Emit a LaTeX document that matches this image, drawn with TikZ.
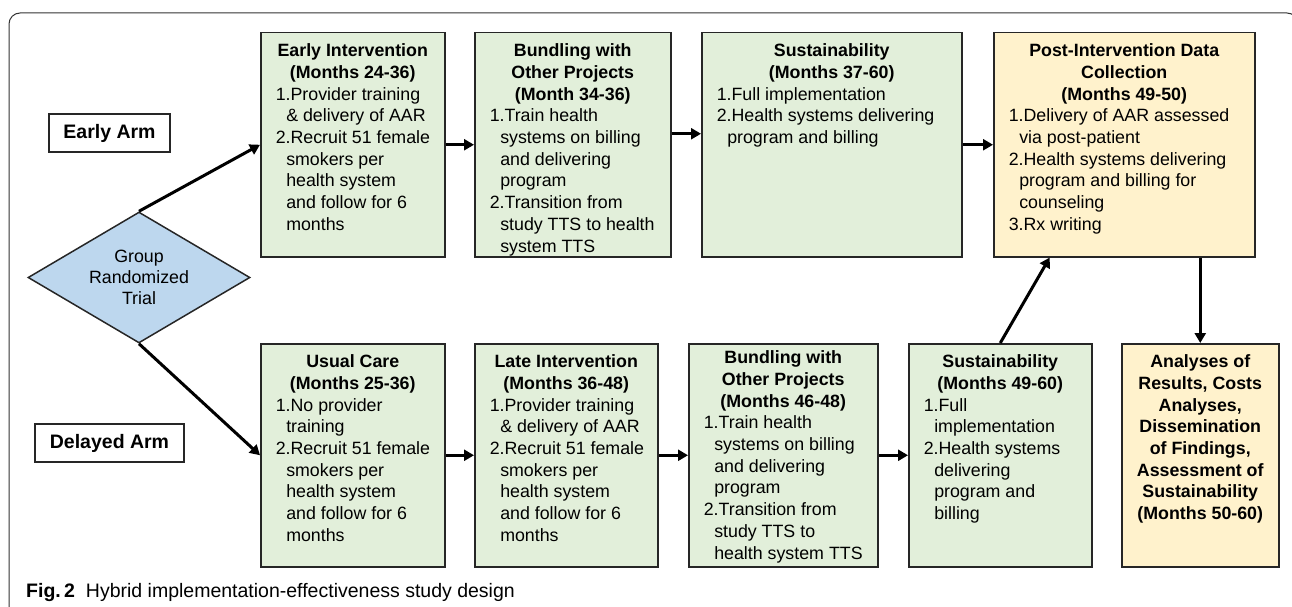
\documentclass[tikz,border=0pt]{standalone}
\usepackage{fontspec}
\setmainfont{Liberation Sans}
\usetikzlibrary{shapes.geometric,arrows.meta}
\definecolor{gfill}{HTML}{E2EFDA}
\definecolor{yfill}{HTML}{FFF2CC}
\definecolor{bfill}{HTML}{BDD7EE}
\definecolor{edgec}{HTML}{262626}
\definecolor{framec}{HTML}{333333}
\newcommand\boxtitle[1]{\hbox to \hsize{\hss\bfseries\vrule height 13pt depth 0pt width 0pt\relax #1\hss}}
\newcommand\boxitem[1]{\hbox{\hskip 15pt\vrule height 13pt depth 0pt width 0pt\relax #1}}
\newcommand\boxcont[1]{\hbox{\hskip 25.5pt\vrule height 13pt depth 0pt width 0pt\relax #1}}
\newcommand\boxbody[4]{\parbox[t][#2][t]{#1}{\vspace*{#3}#4}}
\tikzset{
  bodyfont/.style={font=\fontsize{17.8}{21.7}\selectfont},
  gbox/.style={draw=edgec, line width=1.5pt, fill=gfill, inner sep=0pt, anchor=north west, bodyfont},
  ybox/.style={draw=edgec, line width=1.5pt, fill=yfill, inner sep=0pt, anchor=north west, bodyfont},
  armbox/.style={draw=edgec, line width=1.5pt, fill=white, inner sep=0pt, minimum height=38pt,
    font=\bfseries\fontsize{19.5}{23}\selectfont},
  arr/.style={line width=3pt, black, -{Triangle[length=10pt,width=11pt]}}
}
\begin{document}
\begin{tikzpicture}[x=1pt,y=-1pt]
\useasboundingbox (0,0) rectangle (1292,607);
\begin{scope}
\clip (0,0) rectangle (1292,607);
\draw[framec, line width=1pt, rounded corners=11pt] (9,620) -- (9,13) -- (1298,13) -- (1298,620);
\end{scope}

% arm labels
\node[armbox, minimum width=121pt] (earm) at (109.5,133) {Early Arm};
\node[armbox, minimum width=149pt] (darm) at (109.5,443) {Delayed Arm};

% diamond
\node[diamond, draw=edgec, line width=1.5pt, fill=bfill, minimum width=222pt, minimum height=131pt, inner sep=0pt] (rt) at (139,277.5) {};
\node[align=center, font=\fontsize{17.8}{20.8}\selectfont] (rtt) at (rt.center) {Group\\Randomized\\Trial};

% top row
\node[gbox] (ei) at (260,32) {\boxbody{184pt}{224pt}{11pt}{%
  \boxtitle{Early Intervention}
  \boxtitle{(Months 24-36)}
  \boxitem{1.Provider training}
  \boxcont{\& delivery of AAR}
  \boxitem{2.Recruit 51 female}
  \boxcont{smokers per}
  \boxcont{health system}
  \boxcont{and follow for 6}
  \boxcont{months}}};

\node[gbox] (bo1) at (474,32) {\boxbody{196pt}{224pt}{11pt}{%
  \boxtitle{Bundling with}
  \boxtitle{Other Projects}
  \boxtitle{(Month 34-36)}
  \boxitem{1.Train health}
  \boxcont{systems on billing}
  \boxcont{and delivering}
  \boxcont{program}
  \boxitem{2.Transition from}
  \boxcont{study TTS to health}
  \boxcont{system TTS}}};

\node[gbox] (su1) at (701,32) {\boxbody{260pt}{224pt}{11pt}{%
  \boxtitle{Sustainability}
  \boxtitle{(Months 37-60)}
  \boxitem{1.Full implementation}
  \boxitem{2.Health systems delivering}
  \boxcont{program and billing}}};

\node[ybox] (po) at (993,32) {\boxbody{261pt}{224pt}{11pt}{%
  \boxtitle{Post-Intervention Data}
  \boxtitle{Collection}
  \boxtitle{(Months 49-50)}
  \boxitem{1.Delivery of AAR assessed}
  \boxcont{via post-patient}
  \boxitem{2.Health systems delivering}
  \boxcont{program and billing for}
  \boxcont{counseling}
  \boxitem{3.Rx writing}}};

% bottom row
\node[gbox] (uc) at (260,343) {\boxbody{184pt}{223pt}{11pt}{%
  \boxtitle{Usual Care}
  \boxtitle{(Months 25-36)}
  \boxitem{1.No provider}
  \boxcont{training}
  \boxitem{2.Recruit 51 female}
  \boxcont{smokers per}
  \boxcont{health system}
  \boxcont{and follow for 6}
  \boxcont{months}}};

\node[gbox] (li) at (474,343) {\boxbody{183pt}{223pt}{11pt}{%
  \boxtitle{Late Intervention}
  \boxtitle{(Months 36-48)}
  \boxitem{1.Provider training}
  \boxcont{\& delivery of AAR}
  \boxitem{2.Recruit 51 female}
  \boxcont{smokers per}
  \boxcont{health system}
  \boxcont{and follow for 6}
  \boxcont{months}}};

\node[gbox] (bo2) at (688,343) {\boxbody{189pt}{223pt}{7pt}{%
  \boxtitle{Bundling with}
  \boxtitle{Other Projects}
  \boxtitle{(Months 46-48)}
  \boxitem{1.Train health}
  \boxcont{systems on billing}
  \boxcont{and delivering}
  \boxcont{program}
  \boxitem{2.Transition from}
  \boxcont{study TTS to}
  \boxcont{health system TTS}}};

\node[gbox] (su2) at (908,343) {\boxbody{183pt}{223pt}{11pt}{%
  \boxtitle{Sustainability}
  \boxtitle{(Months 49-60)}
  \boxitem{1.Full}
  \boxcont{implementation}
  \boxitem{2.Health systems}
  \boxcont{delivering}
  \boxcont{program and}
  \boxcont{billing}}};

\node[ybox] (an) at (1121,343) {\boxbody{157pt}{223pt}{11pt}{%
  \boxtitle{Analyses of}
  \boxtitle{Results, Costs}
  \boxtitle{Analyses,}
  \boxtitle{Dissemination}
  \boxtitle{of Findings,}
  \boxtitle{Assessment of}
  \boxtitle{Sustainability}
  \boxtitle{(Months 50-60)}}};

% connectors
\draw[arr] (rt.north) -- (ei.west);
\draw[arr] (rt.south) -- (uc.west);
\draw[arr] (ei.east) -- (bo1.west |- ei.east);
\draw[arr] ([yshift=11pt]bo1.east) -- ([yshift=11pt]su1.west);
\draw[arr] (su1.east) -- (po.west);
\draw[arr] (uc.east) -- (li.west);
\draw[arr] (li.east) -- (bo2.west);
\draw[arr] (bo2.east) -- (su2.west);
\draw[arr] (su2.north) -- ([xshift=-74.5pt]po.south);
\draw[arr] (po.south -| an.north) -- (an.north);

% caption
\node[anchor=base west, font=\fontsize{19.5}{23}\selectfont, inner sep=0pt] (cap) at (26,597)
  {\textbf{Fig.\,2}\hspace{11pt}Hybrid implementation-effectiveness study design};
\end{tikzpicture}
\end{document}
